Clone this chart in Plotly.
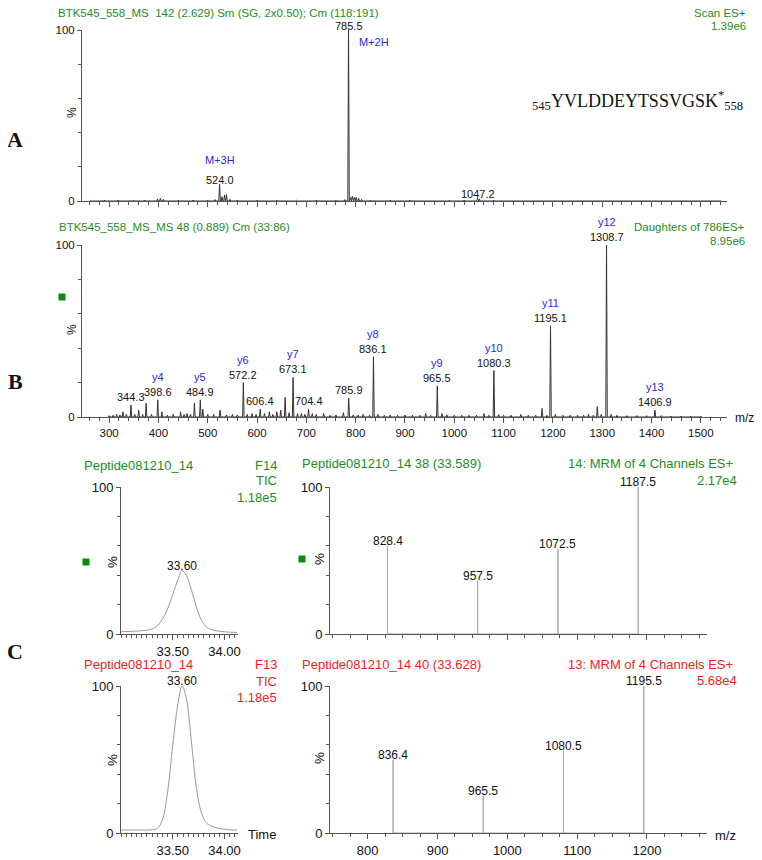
import plotly.graph_objects as go

# Reference canvas size and the page's default body margin
REF_W, REF_H = 762, 860
OFF = 8
W, H = REF_W - OFF, REF_H - OFF

# ---------------- DATA ----------------
# Panel A: full scan MS (m/z, relative intensity %)
a_mz = [262, 290, 318, 350, 372, 398, 404, 410, 440, 470, 500, 515, 524.0, 529, 534, 538, 545, 560, 600,
        640, 680, 720, 760, 778, 785.5, 789, 793, 797, 801, 806, 812, 830, 870, 910, 950, 990, 1020, 1047.2,
        1051, 1080, 1120, 1160, 1200, 1260, 1320, 1400, 1480, 1540]
a_int = [0.4, 0.5, 0.6, 0.5, 0.6, 1.2, 1.5, 1.0, 0.5, 0.6, 0.5, 0.8, 10, 2.5, 3.5, 3.8, 1.0, 0.6, 0.5,
         0.5, 0.4, 0.5, 0.5, 0.8, 100, 2.0, 2.8, 2.0, 2.2, 1.6, 1.0, 0.6, 0.5, 0.5, 0.4, 0.5, 0.6, 1.6,
         1.0, 0.5, 0.4, 0.4, 0.4, 0.3, 0.3, 0.3, 0.3, 0.3]
a_labels = [524.0, 785.5, 1047.2]
a_ions = ["M+3H", "M+2H", ""]

# Panel B: MS/MS of 786 (m/z, relative intensity %)
b_mz = [300, 308, 315, 322, 328, 335, 344.3, 352, 360, 368, 375, 386, 398.6, 407, 418, 430, 445, 452, 458,
        465, 473, 484.9, 490, 500, 512, 525, 538, 550, 560, 572.2, 580, 590, 598, 606.4, 615, 625, 632,
        640, 648, 657, 665, 673.1, 682, 690, 697, 704.4, 712, 720, 735, 748, 760, 775, 785.9, 795, 805,
        815, 828, 836.1, 845, 858, 870, 885, 900, 915, 930, 942, 952, 965.5, 975, 985, 1000, 1015, 1030,
        1045, 1060, 1070, 1080.3, 1090, 1100, 1115, 1135, 1150, 1165, 1178, 1188, 1195.1, 1205, 1220, 1235,
        1250, 1262, 1272, 1282, 1290, 1298, 1308.7, 1318, 1330, 1350, 1370, 1390, 1406.9, 1420, 1440,
        1460, 1480, 1500]
b_int = [0.8, 1.0, 1.5, 1.2, 3.0, 1.5, 7.0, 1.5, 4.0, 1.5, 8.0, 1.5, 10, 3.0, 1.0, 1.5, 3.0, 1.5, 2.0,
         1.5, 8.0, 10, 4.5, 1.5, 1.5, 4.0, 1.2, 1.5, 1.2, 20, 1.5, 2.0, 1.5, 4.5, 2.0, 3.0, 1.5,
         3.0, 4.0, 11.5, 2.5, 23, 2.0, 2.0, 1.5, 4.5, 2.0, 1.5, 2.0, 1.0, 1.2, 2.5, 11, 1.2, 1.2,
         1.5, 1.0, 35, 1.5, 1.0, 1.2, 1.0, 1.2, 1.0, 1.0, 2.0, 1.0, 18, 2.0, 1.2, 1.0, 1.0, 1.0,
         1.0, 2.0, 1.0, 27, 1.5, 1.0, 1.0, 1.5, 1.0, 1.0, 5.0, 1.0, 53, 1.5, 1.0, 1.0,
         1.0, 1.0, 1.5, 1.0, 6.0, 1.5, 100, 1.5, 1.0, 0.8, 0.8, 0.8, 4.0, 0.8, 0.6,
         0.6, 0.5, 0.5]
b_labels = [344.3, 398.6, 484.9, 572.2, 606.4, 673.1, 704.4, 785.9, 836.1, 965.5, 1080.3, 1195.1, 1308.7, 1406.9]
b_ions = ["", "y4", "y5", "y6", "", "y7", "", "", "y8", "y9", "y10", "y11", "y12", "y13"]

# Panel C: chromatograms (time in min, %)
c1_t = [33.00, 33.10, 33.20, 33.28, 33.34, 33.40, 33.45, 33.50, 33.55, 33.59, 33.63, 33.68, 33.73, 33.78,
        33.83, 33.90, 34.00, 34.12]
c1_i = [1.5, 1.8, 2.2, 3.0, 5.0, 10, 17, 27, 37, 43, 40, 30, 18, 9, 4.5, 2.5, 1.5, 1.0]
c2_t = [33.00, 33.10, 33.20, 33.30, 33.35, 33.40, 33.45, 33.50, 33.55, 33.59, 33.63, 33.68, 33.73, 33.78,
        33.83, 33.90, 34.00, 34.12]
c2_i = [2.0, 2.0, 2.0, 2.2, 3.0, 9, 28, 60, 88, 100, 92, 62, 30, 13, 6.5, 4.0, 2.5, 2.0]

# Panel C: MRM spectra
m1_mz = [828.4, 957.5, 1072.5, 1187.5]
m1_int = [60, 36, 58, 100]
m2_mz = [836.4, 965.5, 1080.5, 1195.5]
m2_int = [50, 25, 56, 100]

# ---------------- STYLE ----------------
GREEN = "#1e8c1e"
RED = "#f21c1c"
BLUE = "#2828e0"
SANS = "Liberation Sans, Arial, sans-serif"
SERIF = "Liberation Serif, Times New Roman, serif"
AXC = "#555555"


def fx(px):
    return (px - OFF) / W


def fy(py):
    return 1 - (py - OFF) / H


def sticks(mz, inten, half=1.5):
    xs, ys = [], []
    for m, h in sorted(zip(mz, inten)):
        xs += [m - half, m, m + half]
        ys += [0, h, 0]
    return xs, ys


fig = go.Figure()

# Panel A
xs, ys = sticks(a_mz, a_int)
fig.add_trace(go.Scatter(x=xs, y=ys, mode="lines", line=dict(color="#333333", width=1),
                         xaxis="x", yaxis="y", hoverinfo="skip"))
# Panel B
xs, ys = sticks(b_mz, b_int)
fig.add_trace(go.Scatter(x=xs, y=ys, mode="lines", line=dict(color="#333333", width=1),
                         xaxis="x2", yaxis="y2", hoverinfo="skip"))
# Panel C chromatograms
fig.add_trace(go.Scatter(x=c1_t, y=c1_i, mode="lines", line=dict(color="#999999", width=1, shape="spline"),
                         xaxis="x3", yaxis="y3", hoverinfo="skip"))
fig.add_trace(go.Scatter(x=c2_t, y=c2_i, mode="lines", line=dict(color="#999999", width=1, shape="spline"),
                         xaxis="x5", yaxis="y5", hoverinfo="skip"))
# Panel C MRM sticks
xs, ys = sticks(m1_mz, m1_int, half=0.01)
fig.add_trace(go.Scatter(x=xs, y=ys, mode="lines", line=dict(color="#aaaaaa", width=1),
                         xaxis="x4", yaxis="y4", hoverinfo="skip"))
xs, ys = sticks(m2_mz, m2_int, half=0.01)
fig.add_trace(go.Scatter(x=xs, y=ys, mode="lines", line=dict(color="#aaaaaa", width=1),
                         xaxis="x6", yaxis="y6", hoverinfo="skip"))


def xax(dom, rng, anchor, tickvals, ticktext, minor_dtick, show, fs):
    return dict(domain=[fx(dom[0]), fx(dom[1])], range=rng, anchor=anchor, showline=True,
                linecolor=AXC, linewidth=1, ticks="outside", ticklen=5, tickcolor=AXC,
                tickmode="array", tickvals=tickvals, ticktext=ticktext, showticklabels=show,
                tickangle=0, ticklabeloverflow="allow",
                tickfont=dict(family=SANS, size=fs, color="#111"), showgrid=False, zeroline=False,
                minor=dict(ticks="outside", ticklen=3, tickcolor=AXC, dtick=minor_dtick, showgrid=False),
                automargin=False, fixedrange=True)


def yax(dom, anchor, fs):
    return dict(domain=[fy(dom[1]), fy(dom[0])], range=[0, 100], anchor=anchor, showline=True,
                linecolor=AXC, linewidth=1, ticks="outside", ticklen=4, tickcolor=AXC,
                tickmode="array", tickvals=[0, 100], ticktext=["0", "100"],
                tickfont=dict(family=SANS, size=fs, color="#111"), showgrid=False, zeroline=False,
                minor=dict(ticks="outside", ticklen=3, tickcolor=AXC, tickmode="linear", tick0=0, dtick=20,
                           showgrid=False),
                automargin=False, fixedrange=True)


ms_ticks = list(range(300, 1501, 100))
ms_text = [str(v) for v in ms_ticks]
t_ticks = [33.5, 34.0]
t_text = ["33.50", "34.00"]
mrm_ticks = list(range(800, 1201, 100))
mrm_text = [str(v) for v in mrm_ticks]

fig.update_layout(
    width=W, height=H, margin=dict(l=0, r=0, t=0, b=0, pad=0, autoexpand=False), showlegend=False,
    paper_bgcolor="white", plot_bgcolor="white",
    xaxis=xax((82, 727), [245, 1553], "y", ms_ticks, ms_text, 20, False, 11.5),
    yaxis=yax((30, 201), "x", 11.5),
    xaxis2=xax((82, 727), [245, 1553], "y2", ms_ticks, ms_text, 20, True, 11.5),
    yaxis2=yax((245, 417), "x2", 11.5),
    xaxis3=xax((121, 238), [33.0, 34.13], "y3", t_ticks, t_text, 0.05, True, 13),
    yaxis3=yax((487, 634), "x3", 13),
    xaxis4=xax((330, 707), [746, 1286], "y4", mrm_ticks, mrm_text, 25, False, 13),
    yaxis4=yax((487, 634), "x4", 13),
    xaxis5=xax((121, 238), [33.0, 34.13], "y5", t_ticks, t_text, 0.05, True, 13),
    yaxis5=yax((686, 833), "x5", 13),
    xaxis6=xax((330, 707), [746, 1286], "y6", mrm_ticks, mrm_text, 25, True, 13),
    yaxis6=yax((686, 833), "x6", 13),
)

ann = []


def txt(x, y, text, color="#111", size=11.5, xanchor="left", yanchor="middle", family=SANS, **kw):
    ann.append(dict(x=fx(x), y=fy(y), xref="paper", yref="paper", text=text, showarrow=False,
                    xanchor=xanchor, yanchor=yanchor, font=dict(family=family, size=size, color=color), **kw))


# Headers
txt(57, 13, "BTK545_558_MS  142 (2.629) Sm (SG, 2x0.50); Cm (118:191)", GREEN, borderpad=0)
txt(747, 13, "Scan ES+", GREEN, xanchor="right", borderpad=0)
txt(747, 26, "1.39e6", GREEN, xanchor="right", borderpad=0)
txt(57, 227, "BTK545_558_MS_MS 48 (0.889) Cm (33:86)", GREEN)
txt(747, 227, "Daughters of 786ES+", GREEN, xanchor="right")
txt(747, 241, "8.95e6", GREEN, xanchor="right")

txt(82, 465, "Peptide081210_14", GREEN, size=13)
txt(279, 465, "F14", GREEN, size=13, xanchor="right")
txt(279, 481, "TIC", GREEN, size=13, xanchor="right")
txt(279, 497, "1.18e5", GREEN, size=13, xanchor="right")
txt(300, 464, "Peptide081210_14 38 (33.589)", GREEN, size=13)
txt(735, 464, "14: MRM of 4 Channels ES+", GREEN, size=13, xanchor="right")
txt(739, 480, "2.17e4", GREEN, size=13, xanchor="right")

txt(82, 664, "Peptide081210_14", RED, size=13)
txt(279, 664, "F13", RED, size=13, xanchor="right")
txt(279, 681, "TIC", RED, size=13, xanchor="right")
txt(279, 697, "1.18e5", RED, size=13, xanchor="right")
txt(300, 664, "Peptide081210_14 40 (33.628)", RED, size=13)
txt(735, 664, "13: MRM of 4 Channels ES+", RED, size=13, xanchor="right")
txt(739, 680, "5.68e4", RED, size=13, xanchor="right")

# Axis titles
for (x, y, s) in [(72, 113, 12), (72, 330, 12), (112, 562, 13.5), (319, 559, 13.5), (112, 760, 13.5), (319, 758, 13.5)]:
    txt(x, y, "%", size=s, xanchor="center", textangle=-90)
txt(733, 418, "m/z", size=12)
txt(713, 835, "m/z", size=13)
txt(246, 834, "Time", size=13)

# Panel letters
txt(15, 139, "<b>A</b>", size=22, xanchor="center", family=SERIF)
txt(15, 381, "<b>B</b>", size=22, xanchor="center", family=SERIF)
txt(15, 651, "<b>C</b>", size=22, xanchor="center", family=SERIF)

# Peptide sequence
txt(530, 100, "<sub>545</sub>YVLDDEYTSSVGSK<sup>*</sup><sub>558</sub>", size=18, family=SERIF)

# Peak labels
for m, ion in zip(a_labels, a_ions):
    h = a_int[a_mz.index(m)]
    ann.append(dict(x=m, y=h, xref="x", yref="y", text=f"{m:.1f}", showarrow=False, yanchor="bottom",
                    yshift=-3, borderpad=0, font=dict(family=SANS, size=11, color="#111")))
    if ion == "M+2H":
        ann.append(dict(x=m, y=h, xref="x", yref="y", text=ion, showarrow=False, yanchor="middle",
                        xanchor="left", xshift=8, yshift=-12, font=dict(family=SANS, size=11, color=BLUE)))
    elif ion:
        ann.append(dict(x=m, y=h, xref="x", yref="y", text=ion, showarrow=False, yanchor="bottom",
                        yshift=16, font=dict(family=SANS, size=11, color=BLUE)))

for m, ion in zip(b_labels, b_ions):
    h = b_int[b_mz.index(m)]
    ann.append(dict(x=m, y=h, xref="x2", yref="y2", text=f"{m:.1f}", showarrow=False, yanchor="bottom",
                    yshift=0, font=dict(family=SANS, size=11, color="#111")))
    if ion:
        ann.append(dict(x=m, y=h, xref="x2", yref="y2", text=ion, showarrow=False, yanchor="bottom",
                        yshift=15, font=dict(family=SANS, size=11, color=BLUE)))

for xa, ya, mz, it in [("x4", "y4", m1_mz, m1_int), ("x6", "y6", m2_mz, m2_int)]:
    for m, h in zip(mz, it):
        ann.append(dict(x=m, y=h, xref=xa, yref=ya, text=f"{m:.1f}", showarrow=False, yanchor="bottom",
                        yshift=-3, borderpad=0, font=dict(family=SANS, size=12, color="#111")))

for xa, ya, t, it in [("x3", "y3", c1_t, c1_i), ("x5", "y5", c2_t, c2_i)]:
    k = it.index(max(it))
    ann.append(dict(x=t[k], y=it[k], xref=xa, yref=ya, text="33.60", showarrow=False, yanchor="bottom",
                    yshift=-3, borderpad=0, font=dict(family=SANS, size=12, color="#111")))

fig.update_layout(annotations=ann)

# Green square markers
for (cx, cy) in [(62, 297), (86, 562), (302, 559)]:
    fig.add_shape(type="rect", xref="paper", yref="paper", x0=fx(cx - 3.5), x1=fx(cx + 3.5),
                  y0=fy(cy + 3.5), y1=fy(cy - 3.5), fillcolor="#0a8a0a", line=dict(width=0))

fig.write_html("out.html")
